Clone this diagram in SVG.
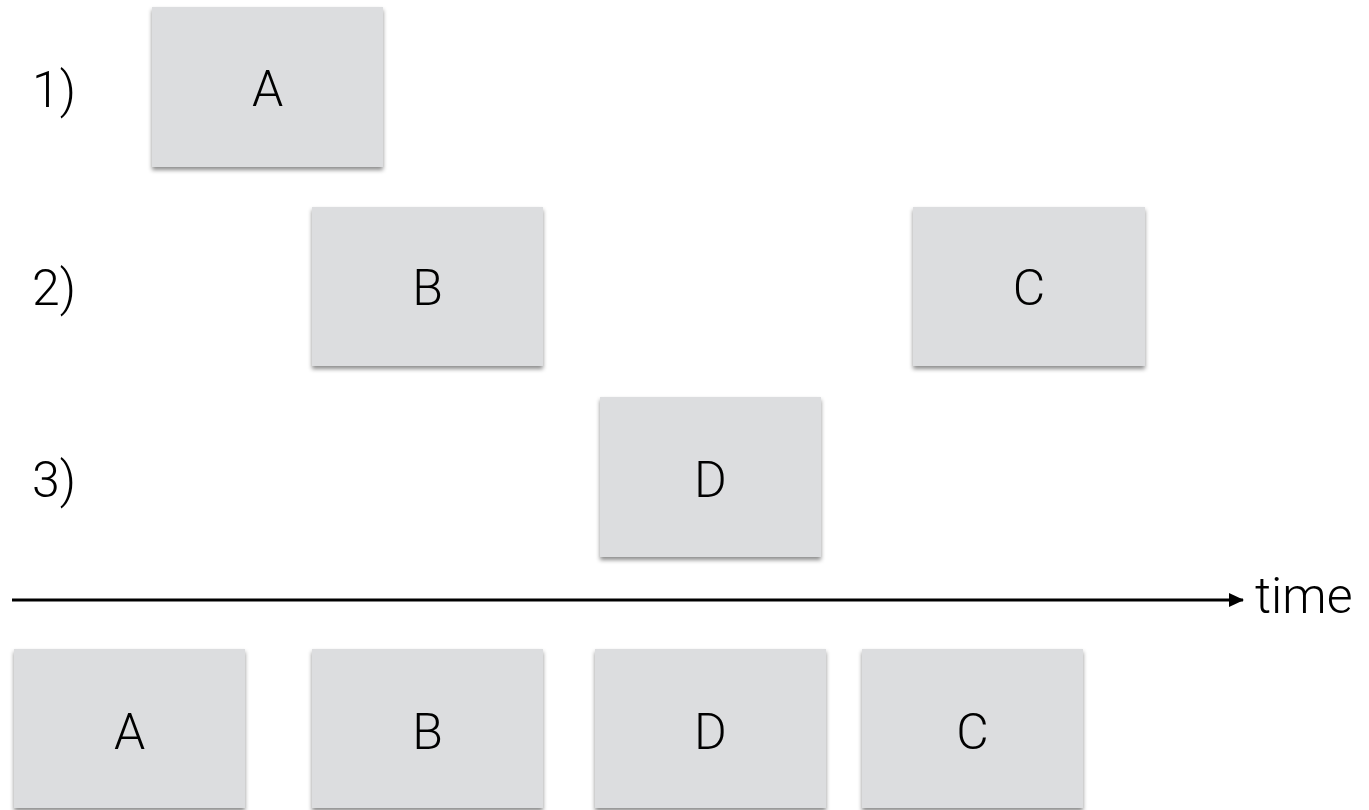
<svg xmlns="http://www.w3.org/2000/svg" width="1369" height="810" viewBox="0 0 1369 810">
<defs>
<filter id="sh" x="-10%" y="-10%" width="120%" height="125%">
<feDropShadow dx="0" dy="3" stdDeviation="2" flood-color="#000" flood-opacity="0.45"/>
</filter>
<marker id="ah" markerWidth="16" markerHeight="16" refX="14" refY="8" orient="auto" markerUnits="userSpaceOnUse">
<path d="M0,1 L15,8 L0,15 Z" fill="#000"/>
</marker>
</defs>
<style>
.box{fill:#dcdddf;filter:url(#sh)}
.t{font-family:Roboto,"Liberation Sans",Arial,sans-serif;font-weight:300;font-size:50px;fill:#000;text-anchor:middle}
.lbl{font-family:Roboto,"Liberation Sans",Arial,sans-serif;font-weight:300;font-size:50px;fill:#000}
</style>
<rect width="1369" height="810" fill="#fff"/>
<g id="labels">
<text class="lbl" x="32" y="107">1)</text>
<text class="lbl" x="32" y="305">2)</text>
<text class="lbl" x="32" y="497">3)</text>
</g>
<g id="nodeA1"><rect class="box" x="152" y="7" width="231" height="160"/><text class="t" x="267.5" y="106">A</text></g>
<g id="nodeB1"><rect class="box" x="312" y="207" width="231" height="159"/><text class="t" x="427.5" y="305">B</text></g>
<g id="nodeC1"><rect class="box" x="913" y="207" width="232" height="159"/><text class="t" x="1029" y="305">C</text></g>
<g id="nodeD1"><rect class="box" x="600" y="397" width="221" height="160"/><text class="t" x="710.5" y="497">D</text></g>
<g id="connectors">
<line x1="12" y1="600" x2="1243" y2="600" stroke="#000" stroke-width="3" marker-end="url(#ah)"/>
</g>
<text class="lbl" x="1255" y="613">time</text>
<g id="nodeA2"><rect class="box" x="14" y="649" width="231" height="159"/><text class="t" x="129.5" y="749">A</text></g>
<g id="nodeB2"><rect class="box" x="312" y="649" width="231" height="159"/><text class="t" x="427.5" y="749">B</text></g>
<g id="nodeD2"><rect class="box" x="595" y="649" width="231" height="159"/><text class="t" x="710.5" y="749">D</text></g>
<g id="nodeC2"><rect class="box" x="862" y="649" width="221" height="159"/><text class="t" x="972.5" y="749">C</text></g>
</svg>
